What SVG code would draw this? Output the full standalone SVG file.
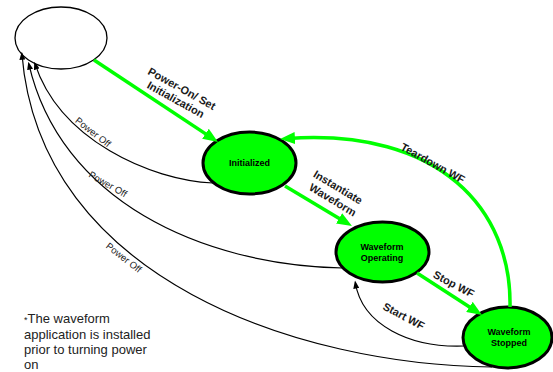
<svg xmlns="http://www.w3.org/2000/svg" width="553" height="372" viewBox="0 0 553 372">
<style>
.node{fill:#00ff00;stroke:#000;stroke-width:3}
.nl{font-family:"Liberation Sans",Arial,sans-serif;font-size:9px;font-weight:bold;fill:#000;text-anchor:middle}
.g{fill:none;stroke:#00ff00;stroke-width:3.5}
.k{fill:none;stroke:#000;stroke-width:1.2}
.bl{font-family:"Liberation Sans",Arial,sans-serif;font-size:11px;font-weight:bold;fill:#1a1a1a;text-anchor:middle}
.pl{font-family:"Liberation Sans",Arial,sans-serif;font-size:9.5px;fill:#1a1a1a;text-anchor:middle}
.note{font-family:"Liberation Sans",Arial,sans-serif;font-size:13px;fill:#222}
</style>
<defs>
<marker id="ag" viewBox="0 0 15 12" refX="7" refY="6" markerWidth="15" markerHeight="12" markerUnits="userSpaceOnUse" orient="auto"><path d="M0,0 L15,6 L0,12 z" fill="#00ff00"/></marker>
<marker id="ak" viewBox="0 0 8 6" refX="6" refY="3" markerWidth="8" markerHeight="6" markerUnits="userSpaceOnUse" orient="auto"><path d="M0,0 L8,3 L0,6 z" fill="#000"/></marker>
</defs>
<rect width="553" height="372" fill="#fff"/>
<g id="off">
<ellipse cx="61" cy="38" rx="46" ry="31" fill="#fff" stroke="#000" stroke-width="1.3"/>
</g>
<g id="initialized">
<ellipse class="node" cx="249.5" cy="163" rx="46.5" ry="31"/>
<text class="nl" x="249.5" y="166">Initialized</text>
</g>
<g id="operating">
<ellipse class="node" cx="382.5" cy="252" rx="46.5" ry="30"/>
<text class="nl" x="382" y="250">Waveform</text>
<text class="nl" x="382" y="261">Operating</text>
</g>
<g id="stopped">
<ellipse class="node" cx="507.5" cy="337.5" rx="44.5" ry="30.5"/>
<text class="nl" x="509" y="335">Waveform</text>
<text class="nl" x="509" y="346">Stopped</text>
</g>
<g id="connectors">
<path class="g" d="M94,60 L211.3,137.6" marker-end="url(#ag)"/>
<path class="g" d="M285,186 L345.1,221.9" marker-end="url(#ag)"/>
<path class="g" d="M417,273 L475.3,310.7" marker-end="url(#ag)"/>
<path class="g" d="M510,307 C512,210 440,128 288,138.5" marker-end="url(#ag)"/>
<path class="k" d="M213,183 C150,180 60,140 34.9,63.6" marker-end="url(#ak)"/>
<path class="k" d="M343,268 C200,265 60,200 28.75,63.65" marker-end="url(#ak)"/>
<path class="k" d="M492,367 C300,365 40,280 21.9,53.7" marker-end="url(#ak)"/>
<path class="k" d="M464,346 C410,348 362,325 355.3,282.5" marker-end="url(#ak)"/>
<g transform="translate(180,92) rotate(29)"><text class="bl" x="0" y="0">Power-On/ Set</text><text class="bl" x="0" y="12.5">Initialization</text></g>
<g transform="translate(336,190.5) rotate(31)"><text class="bl" x="0" y="0">Instantiate</text><text class="bl" x="2" y="13.5">Waveform</text></g>
<g transform="translate(431,166.5) rotate(29)"><text class="bl" x="0" y="0">Teardown WF</text></g>
<g transform="translate(452,287.5) rotate(28)"><text class="bl" x="0" y="0">Stop WF</text></g>
<g transform="translate(402,319.5) rotate(28)"><text class="bl" x="0" y="0">Start WF</text></g>
<g transform="translate(91,134.8) rotate(38)"><text class="pl" x="0" y="0">Power Off</text></g>
<g transform="translate(106.3,187) rotate(30)"><text class="pl" x="0" y="0">Power Off</text></g>
<g transform="translate(121.8,260.3) rotate(38)"><text class="pl" x="0" y="0">Power Off</text></g>
</g>
<g id="note">
<text class="note" x="24" y="323"><tspan font-size="9">*</tspan>The waveform</text>
<text class="note" x="24" y="338.5">application is installed</text>
<text class="note" x="24" y="354">prior to turning power</text>
<text class="note" x="24" y="368.5">on</text>
</g>
</svg>
